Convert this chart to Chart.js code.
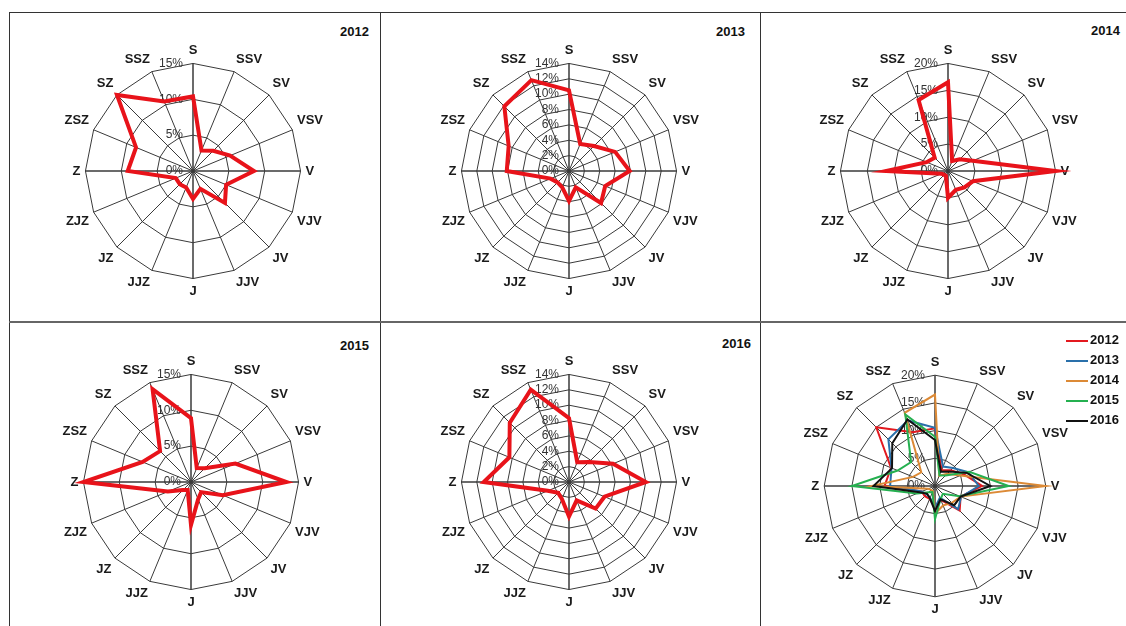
<!DOCTYPE html>
<html>
<head>
<meta charset="utf-8">
<script src="https://cdn.jsdelivr.net/npm/chart.js@4.4.1/dist/chart.umd.min.js"></script>
<style>
html, body { margin: 0; padding: 0; background: #fff; overflow: hidden; width: 1126px; height: 626px; }
body { position: relative; font-family: "Liberation Sans", Arial, sans-serif; }
.ln { position: absolute; background: #333; }
.title { position: absolute; font: bold 13px "Liberation Sans", Arial, sans-serif; color: #111; }
canvas { position: absolute; }
#legend { position: absolute; left: 1066px; top: 331px; font: bold 13px "Liberation Sans", Arial, sans-serif; color: #111; }
#legend div { height: 20px; line-height: 18px; white-space: nowrap; }
#legend span { display: inline-block; width: 22px; height: 2px; vertical-align: middle; margin-right: 2px; }
</style>
</head>
<body>
<!-- ramecek tabulky -->
<div class="ln" style="left:9px;top:12px;width:1117px;height:1px"></div>
<div class="ln" style="left:9px;top:12px;width:1px;height:614px"></div>
<div class="ln" style="left:380px;top:12px;width:1px;height:614px"></div>
<div class="ln" style="left:760px;top:12px;width:1px;height:614px"></div>
<div class="ln" style="left:9px;top:321px;width:1117px;height:2px;background:#666"></div>

<div class="title" style="left:340px;top:24px">2012</div>
<div class="title" style="left:716px;top:24px">2013</div>
<div class="title" style="left:1091px;top:23px">2014</div>
<div class="title" style="left:340px;top:338px">2015</div>
<div class="title" style="left:722px;top:336px">2016</div>

<canvas id="c2012" width="260" height="260" style="left:64px;top:42px"></canvas>
<canvas id="c2013" width="260" height="260" style="left:440px;top:42px"></canvas>
<canvas id="c2014" width="260" height="260" style="left:819px;top:42px"></canvas>
<canvas id="c2015" width="260" height="260" style="left:62px;top:353px"></canvas>
<canvas id="c2016" width="260" height="260" style="left:440px;top:353px"></canvas>
<canvas id="cAll" width="265" height="265" style="left:804px;top:354px"></canvas>
<div id="legend"></div>

<script>
// smery vetru
var smery = ['S', 'SSV', 'SV', 'VSV', 'V', 'VJV', 'JV', 'JJV', 'J', 'JJZ', 'JZ', 'ZJZ', 'Z', 'ZSZ', 'SZ', 'SSZ'];

// cetnosti v %
var data2012 = [10.4, 3.1, 4.0, 5.6, 8.5, 5.0, 6.3, 2.7, 3.9, 2.5, 2.6, 2.6, 9.1, 8.6, 15.0, 10.5];
var data2013 = [10.5, 3.8, 4.6, 6.5, 7.9, 5.1, 5.9, 2.3, 3.9, 2.3, 2.1, 2.6, 8.1, 8.5, 11.9, 12.8];
var data2014 = [16.5, 2.0, 3.1, 5.0, 20.0, 5.0, 4.3, 3.8, 5.0, 1.0, 1.0, 1.3, 11.5, 4.3, 3.5, 14.3];
var data2015 = [8.9, 2.1, 2.7, 6.7, 13.3, 4.8, 2.0, 2.6, 6.0, 1.2, 1.6, 3.5, 15.0, 7.3, 6.1, 14.0];
var data2016 = [8.3, 2.8, 3.7, 6.2, 10.0, 5.0, 4.9, 2.6, 4.5, 2.4, 2.0, 3.0, 11.1, 8.4, 10.9, 13.0];

var roky = ['2012', '2013', '2014', '2015', '2016'];
var barvy = ['#e3191f', '#2a70aa', '#dc8a36', '#25b050', '#111111'];

var popisky = {
    id: 'popiskyOsy',
    beforeDatasetsDraw: function (chart) {
        var s = chart.scales.r;
        var ctx = chart.ctx;
        ctx.save();
        ctx.font = '12px "Liberation Sans", Arial, sans-serif';
        ctx.fillStyle = '#333';
        ctx.textAlign = 'right';
        ctx.textBaseline = 'middle';
        s.ticks.forEach(function (t) {
            var d = s.getDistanceFromCenterForValue(t.value);
            ctx.fillText(t.value + '%', s.xCenter - 10, s.yCenter - d);
        });
        ctx.restore();
    }
};

function vytvorGraf(id, datasets, max, krok) {
    var ctx = document.getElementById(id).getContext('2d');
    return new Chart(ctx, {
        type: 'radar',
        data: { labels: smery, datasets: datasets },
        options: {
            responsive: false,
            animation: false,
            plugins: { legend: { display: false }, tooltip: { enabled: false } },
            elements: { point: { radius: 0 }, line: { tension: 0 } },
            scales: {
                r: {
                    min: 0,
                    max: max,
                    ticks: { display: false, stepSize: krok },
                    grid: { color: '#3a3a3a', lineWidth: 1, circular: false },
                    angleLines: {
                        color: '#3a3a3a',
                        lineWidth: function (c) { return c.index % 4 === 0 ? 1.5 : 1; }
                    },
                    pointLabels: {
                        padding: 5,
                        color: '#1a1a1a',
                        font: { family: '"Liberation Sans", Arial, sans-serif', size: 13, weight: 'bold' }
                    }
                }
            }
        },
        plugins: [popisky]
    });
}

function cervena(hodnoty) {
    return [{ data: hodnoty, borderColor: '#e8131a', borderWidth: 4, fill: false }];
}

vytvorGraf('c2012', cervena(data2012), 15, 5);
vytvorGraf('c2013', cervena(data2013), 14, 2);
vytvorGraf('c2014', cervena(data2014), 20, 5);
vytvorGraf('c2015', cervena(data2015), 15, 5);
vytvorGraf('c2016', cervena(data2016), 14, 2);

var vse = [data2012, data2013, data2014, data2015, data2016];
var sady = vse.map(function (d, i) {
    return { label: roky[i], data: d, borderColor: barvy[i], borderWidth: 2, fill: false, order: 5 - i };
});
vytvorGraf('cAll', sady, 20, 5);

// legenda
var leg = document.getElementById('legend');
roky.forEach(function (r, i) {
    var row = document.createElement('div');
    var s = document.createElement('span');
    s.style.background = barvy[i];
    row.appendChild(s);
    row.appendChild(document.createTextNode(r));
    leg.appendChild(row);
});
</script>
</body>
</html>
